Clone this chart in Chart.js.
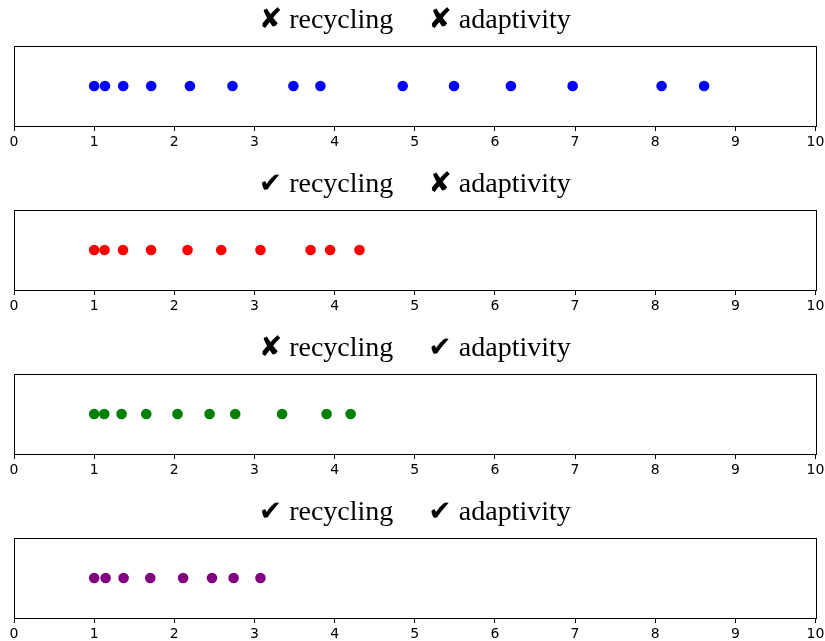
<!DOCTYPE html>
<html>
<head>
<meta charset="utf-8">
<script src="https://cdn.jsdelivr.net/npm/chart.js@4/dist/chart.umd.min.js"></script>
<style>
  html, body { margin: 0; padding: 0; background: #fff; width: 825px; height: 641px; overflow: hidden; }
  .panel { position: absolute; left: 0; width: 825px; height: 164px; }
</style>
</head>
<body>
<div class="panel" style="top:0px"><canvas id="c0" width="825" height="164"></canvas></div>
<div class="panel" style="top:164px"><canvas id="c1" width="825" height="164"></canvas></div>
<div class="panel" style="top:328px"><canvas id="c2" width="825" height="164"></canvas></div>
<div class="panel" style="top:492px"><canvas id="c3" width="825" height="164"></canvas></div>
<script>
// ---- data ----
const titles = [
  "\u2718 recycling\u2003 \u2718 adaptivity",
  "\u2714 recycling\u2003 \u2718 adaptivity",
  "\u2718 recycling\u2003 \u2714 adaptivity",
  "\u2714 recycling\u2003 \u2714 adaptivity"
];
const noRecycleNoAdapt = [1.0, 1.135, 1.363, 1.712, 2.195, 2.726, 3.486, 3.823, 4.85, 5.49, 6.20, 6.97, 8.08, 8.61];
const recycleNoAdapt   = [1.0, 1.13, 1.36, 1.71, 2.165, 2.585, 3.075, 3.70, 3.944, 4.31];
const noRecycleAdapt   = [1.0, 1.126, 1.342, 1.65, 2.04, 2.44, 2.76, 3.345, 3.90, 4.20];
const recycleAdapt     = [1.0, 1.143, 1.367, 1.70, 2.11, 2.47, 2.74, 3.075];
const seriesList = [noRecycleNoAdapt, recycleNoAdapt, noRecycleAdapt, recycleAdapt];
const colors = ["#0000ff", "#ff0000", "#008000", "#800080"];
const xTicks = [0, 1, 2, 3, 4, 5, 6, 7, 8, 9, 10];

const boxPlugin = {
  id: 'boxFrame',
  afterDraw(chart) {
    const a = chart.chartArea;
    const ctx = chart.ctx;
    ctx.save();
    ctx.strokeStyle = '#000';
    ctx.lineWidth = 1;
    ctx.strokeRect(Math.round(a.left) + 0.5, Math.round(a.top) + 0.5,
                   Math.round(a.right - a.left), Math.round(a.bottom - a.top));
    ctx.restore();
  }
};

seriesList.forEach((vals, i) => {
  new Chart(document.getElementById('c' + i), {
    type: 'scatter',
    data: {
      datasets: [{
        data: vals.map(v => ({ x: v, y: 0 })),
        backgroundColor: colors[i],
        borderWidth: 0,
        pointRadius: 5.3,
        pointHoverRadius: 5.3
      }]
    },
    options: {
      responsive: false,
      animation: false,
      events: [],
      layout: { padding: { left: 14, right: 9.5, top: 0, bottom: 0 } },
      plugins: {
        legend: { display: false },
        tooltip: { enabled: false },
        title: {
          display: true,
          text: titles[i],
          color: '#000',
          font: { family: "'Liberation Serif', 'DejaVu Serif', 'DejaVu Sans', serif", size: 28, weight: 'normal' },
          padding: { top: 4.2, bottom: 8.2 }
        }
      },
      scales: {
        x: {
          type: 'linear',
          min: 0, max: 10,
          afterBuildTicks(scale) { scale.ticks = xTicks.map(v => ({ value: v })); },
          afterFit(scale) { scale.height = 38; scale.paddingLeft = 0; scale.paddingRight = 0; },
          ticks: {
            color: '#000',
            font: { family: "'DejaVu Sans'", size: 14 },
            padding: 3,
            autoSkip: false,
            maxRotation: 0
          },
          grid: { display: true, drawOnChartArea: false, drawTicks: true, tickLength: 5, color: '#000' },
          border: { display: true, color: '#000' }
        },
        y: { display: false, min: -1, max: 1 }
      }
    },
    plugins: [boxPlugin]
  });
});
</script>
</body>
</html>
